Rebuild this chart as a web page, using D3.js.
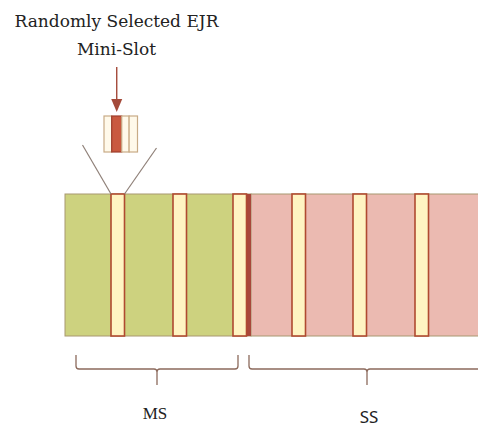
<!DOCTYPE html>
<html>
<head>
<meta charset="utf-8">
<script src="https://cdn.jsdelivr.net/npm/d3@7"></script>
<style>
  html, body { margin: 0; padding: 0; background: #ffffff; }
  svg { display: block; }
</style>
</head>
<body>
<svg id="chart" width="478" height="426"></svg>
<script>
// ---- Data (time units along the frame) ----
const sectionLabels = ["MS", "SS"];
const sectionStart  = [0, 186];
const sectionEnd    = [186, 420];
const bracketStart  = [11, 184];
const bracketEnd    = [173, 420];
const miniSlotStart = [46, 108, 168, 227, 288, 350];
const miniSlotLength = 13.5;
const guardStart = 181;   // dark boundary between MS and SS
const guardEnd   = 186;
const selectedSlot = 0;   // index of randomly selected EJR mini-slot
const zoomParts  = [0, 1, 2, 3];      // sub-parts of the zoomed mini-slot
const zoomSelectedPart = 1;
const titleLines = ["Randomly Selected EJR", "Mini-Slot"];

// ---- Layout ----
const svg = d3.select("#chart");
const x = d3.scaleLinear().domain([0, 420]).range([65, 485]);
const bandTop = 194, bandBottom = 336;

const sectionFill = ["#cdd27f", "#ebbab1"];

// frame sections
svg.selectAll("rect.section")
  .data(sectionLabels)
  .join("rect")
  .attr("class", "section")
  .attr("x", (d, i) => x(sectionStart[i]))
  .attr("y", bandTop)
  .attr("width", (d, i) => x(sectionEnd[i]) - x(sectionStart[i]))
  .attr("height", bandBottom - bandTop)
  .attr("fill", (d, i) => sectionFill[i])
  .attr("stroke", "#a89870")
  .attr("stroke-width", 1);

// guard bar
svg.append("rect")
  .attr("x", x(guardStart))
  .attr("y", bandTop)
  .attr("width", x(guardEnd) - x(guardStart))
  .attr("height", bandBottom - bandTop)
  .attr("fill", "#a9473a");

// mini slots
svg.selectAll("rect.slot")
  .data(miniSlotStart)
  .join("rect")
  .attr("class", "slot")
  .attr("x", d => x(d))
  .attr("y", bandTop)
  .attr("width", x(miniSlotLength) - x(0))
  .attr("height", bandBottom - bandTop)
  .attr("fill", "#fff4c2")
  .attr("stroke", "#b04a30")
  .attr("stroke-width", 1.6);

// zoom lines from selected slot to magnified box
const sel = miniSlotStart[selectedSlot];
const boxX0 = 104, boxX1 = 137.5, boxY0 = 116, boxY1 = 152;
svg.append("line")
  .attr("x1", x(sel)).attr("y1", bandTop)
  .attr("x2", 82.5).attr("y2", 145)
  .attr("stroke", "#8f8078").attr("stroke-width", 1.2);
svg.append("line")
  .attr("x1", x(sel + miniSlotLength)).attr("y1", bandTop)
  .attr("x2", 156.5).attr("y2", 148)
  .attr("stroke", "#8f8078").attr("stroke-width", 1.2);

// magnified box
const partEdges = [0, 0.23, 0.53, 0.75, 1];
const bx = d3.scaleLinear().domain([0, 1]).range([boxX0, boxX1]);
svg.selectAll("rect.part")
  .data(zoomParts)
  .join("rect")
  .attr("class", "part")
  .attr("x", d => bx(partEdges[d]))
  .attr("y", boxY0)
  .attr("width", d => bx(partEdges[d + 1]) - bx(partEdges[d]))
  .attr("height", boxY1 - boxY0)
  .attr("fill", d => d === zoomSelectedPart ? "#c9593f" : "#fff9ea")
  .attr("stroke", d => d === zoomSelectedPart ? "#9e3d2c" : "#c8ab86")
  .attr("stroke-width", 1.2);

// arrow
const arrowX = bx((partEdges[zoomSelectedPart] + partEdges[zoomSelectedPart + 1]) / 2);
svg.append("line")
  .attr("x1", arrowX).attr("y1", 67)
  .attr("x2", arrowX).attr("y2", 101)
  .attr("stroke", "#a44a3a").attr("stroke-width", 1.4);
svg.append("path")
  .attr("d", `M${arrowX - 5.5},99 L${arrowX + 5.5},99 L${arrowX},112 Z`)
  .attr("fill", "#a44a3a");

// title
svg.selectAll("text.title")
  .data(titleLines)
  .join("text")
  .attr("class", "title")
  .attr("x", 116.5)
  .attr("y", (d, i) => 27 + i * 28)
  .attr("text-anchor", "middle")
  .attr("font-family", "DejaVu Serif")
  .attr("font-size", 17)
  .attr("fill", "#222222")
  .text(d => d);

// brackets
const bTop = 355, bMid = 369, bTick = 385;
svg.selectAll("path.bracket")
  .data(sectionLabels)
  .join("path")
  .attr("class", "bracket")
  .attr("d", (d, i) => {
    const a = x(bracketStart[i]), b = x(bracketEnd[i]), m = (a + b) / 2;
    return `M${a},${bTop} L${a},${bMid - 3} Q${a},${bMid} ${a + 3},${bMid}` +
           ` L${m - 3},${bMid} Q${m},${bMid} ${m},${bMid + 3} L${m},${bTick}` +
           ` M${m},${bMid + 3} Q${m},${bMid} ${m + 3},${bMid}` +
           ` L${b - 3},${bMid} Q${b},${bMid} ${b},${bMid - 3} L${b},${bTop}`;
  })
  .attr("fill", "none")
  .attr("stroke", "#8c6a5c")
  .attr("stroke-width", 1.3);

// section labels
svg.selectAll("text.label")
  .data(sectionLabels)
  .join("text")
  .attr("class", "label")
  .attr("x", (d, i) => i === 0 ? 155 : 369)
  .attr("y", (d, i) => i === 0 ? 418.5 : 422.5)
  .attr("text-anchor", "middle")
  .attr("font-family", (d, i) => i === 0 ? "Liberation Serif" : "Noto Sans")
  .attr("font-size", 17)
  .attr("fill", "#222222")
  .text(d => d);
</script>
</body>
</html>
